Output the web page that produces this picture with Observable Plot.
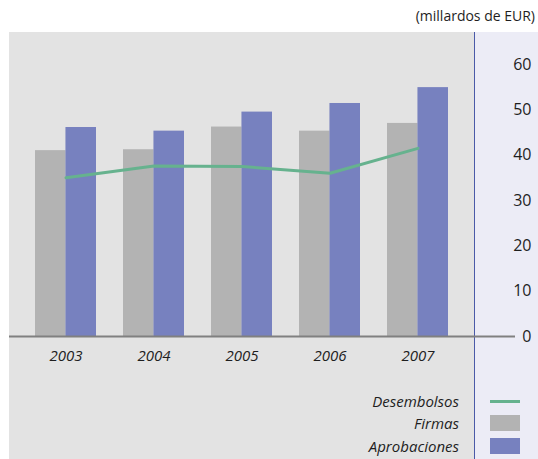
<!DOCTYPE html>
<html>
<head>
<meta charset="utf-8">
<script src="https://cdn.jsdelivr.net/npm/d3@7"></script>
<script src="https://cdn.jsdelivr.net/npm/@observablehq/plot@0.6"></script>
<style>
  html, body { margin: 0; padding: 0; background: #ffffff; }
  #wrap { position: relative; width: 538px; height: 459px; overflow: hidden; font-family: "Open Sans", sans-serif; color: #1e1e1e; }
  #title { position: absolute; top: 6px; right: 3px; font-size: 14px; }
  #panel { position: absolute; left: 9px; top: 32px; width: 465px; height: 427px; background: #e3e3e3; }
  #side { position: absolute; left: 474px; top: 32px; width: 64px; height: 427px; background: #ececf6; border-left: 1px solid #4a5aa8; box-sizing: border-box; }
  #chart { position: absolute; left: 0; top: 32px; }
  #legend { position: absolute; left: 0; top: 391px; width: 538px; }
  .lg { position: absolute; font-style: italic; font-size: 15px; line-height: 20px; text-align: right; width: 200px; left: 259px; }
  .sw { position: absolute; left: 490px; width: 30px; }
</style>
</head>
<body>
<div id="wrap">
  <div id="panel"></div>
  <div id="side"></div>
  <div id="title">(millardos de EUR)</div>
  <div id="chart"></div>
  <div id="legend"></div>
</div>
<script>
const years = ["2003", "2004", "2005", "2006", "2007"];
const firmas = [41, 41.2, 46.2, 45.3, 47];
const aprobaciones = [46.1, 45.3, 49.5, 51.4, 54.9];
const desembolsos = [35, 37.6, 37.5, 36, 41.5];
const yTicks = [0, 10, 20, 30, 40, 50, 60];

const seriesNames = ["Desembolsos", "Firmas", "Aprobaciones"];
const seriesColors = ["#66b28e", "#b3b3b3", "#7781bf"];

const rows = years.map((y, i) => ({year: y, firmas: firmas[i], aprobaciones: aprobaciones[i], desembolsos: desembolsos[i]}));

const plot = Plot.plot({
  width: 538,
  height: 340,
  marginLeft: 21,
  marginRight: 76,
  marginTop: 32,
  marginBottom: 36,
  style: {background: "transparent", fontFamily: "Open Sans, sans-serif", fontSize: "15px", color: "#1e1e1e"},
  x: {domain: years, paddingInner: 0.31, paddingOuter: 0.155},
  y: {domain: [0, 60]},
  marks: [
    Plot.barY(rows, {x: "year", y: "firmas", fill: seriesColors[1], insetRight: 30.45}),
    Plot.barY(rows, {x: "year", y: "aprobaciones", fill: seriesColors[2], insetLeft: 30.45}),
    Plot.lineY(rows, {x: "year", y: "desembolsos", stroke: seriesColors[0], strokeWidth: 3}),
    Plot.ruleY([0], {stroke: "#808080", strokeWidth: 2, insetLeft: -12, insetRight: -53}),
    Plot.axisX({tickSize: 0, tickPadding: 14, fontStyle: "italic", fontSize: 15, label: null}),
    Plot.axisY(yTicks, {anchor: "right", tickSize: 0, tickPadding: 0, textAnchor: "end", dx: 69, fontSize: 16, label: null})
  ]
});
document.getElementById("chart").appendChild(plot);

const legend = document.getElementById("legend");
const tops = [0, 22, 45];
seriesNames.forEach((name, i) => {
  const t = document.createElement("div");
  t.className = "lg";
  t.style.top = tops[i] + "px";
  t.textContent = name;
  legend.appendChild(t);
  const s = document.createElement("div");
  s.className = "sw";
  s.style.background = seriesColors[i];
  if (i === 0) { s.style.top = (tops[i] + 9) + "px"; s.style.height = "3px"; }
  else { s.style.top = (tops[i] + 2) + "px"; s.style.height = "16px"; }
  legend.appendChild(s);
});
</script>
</body>
</html>
